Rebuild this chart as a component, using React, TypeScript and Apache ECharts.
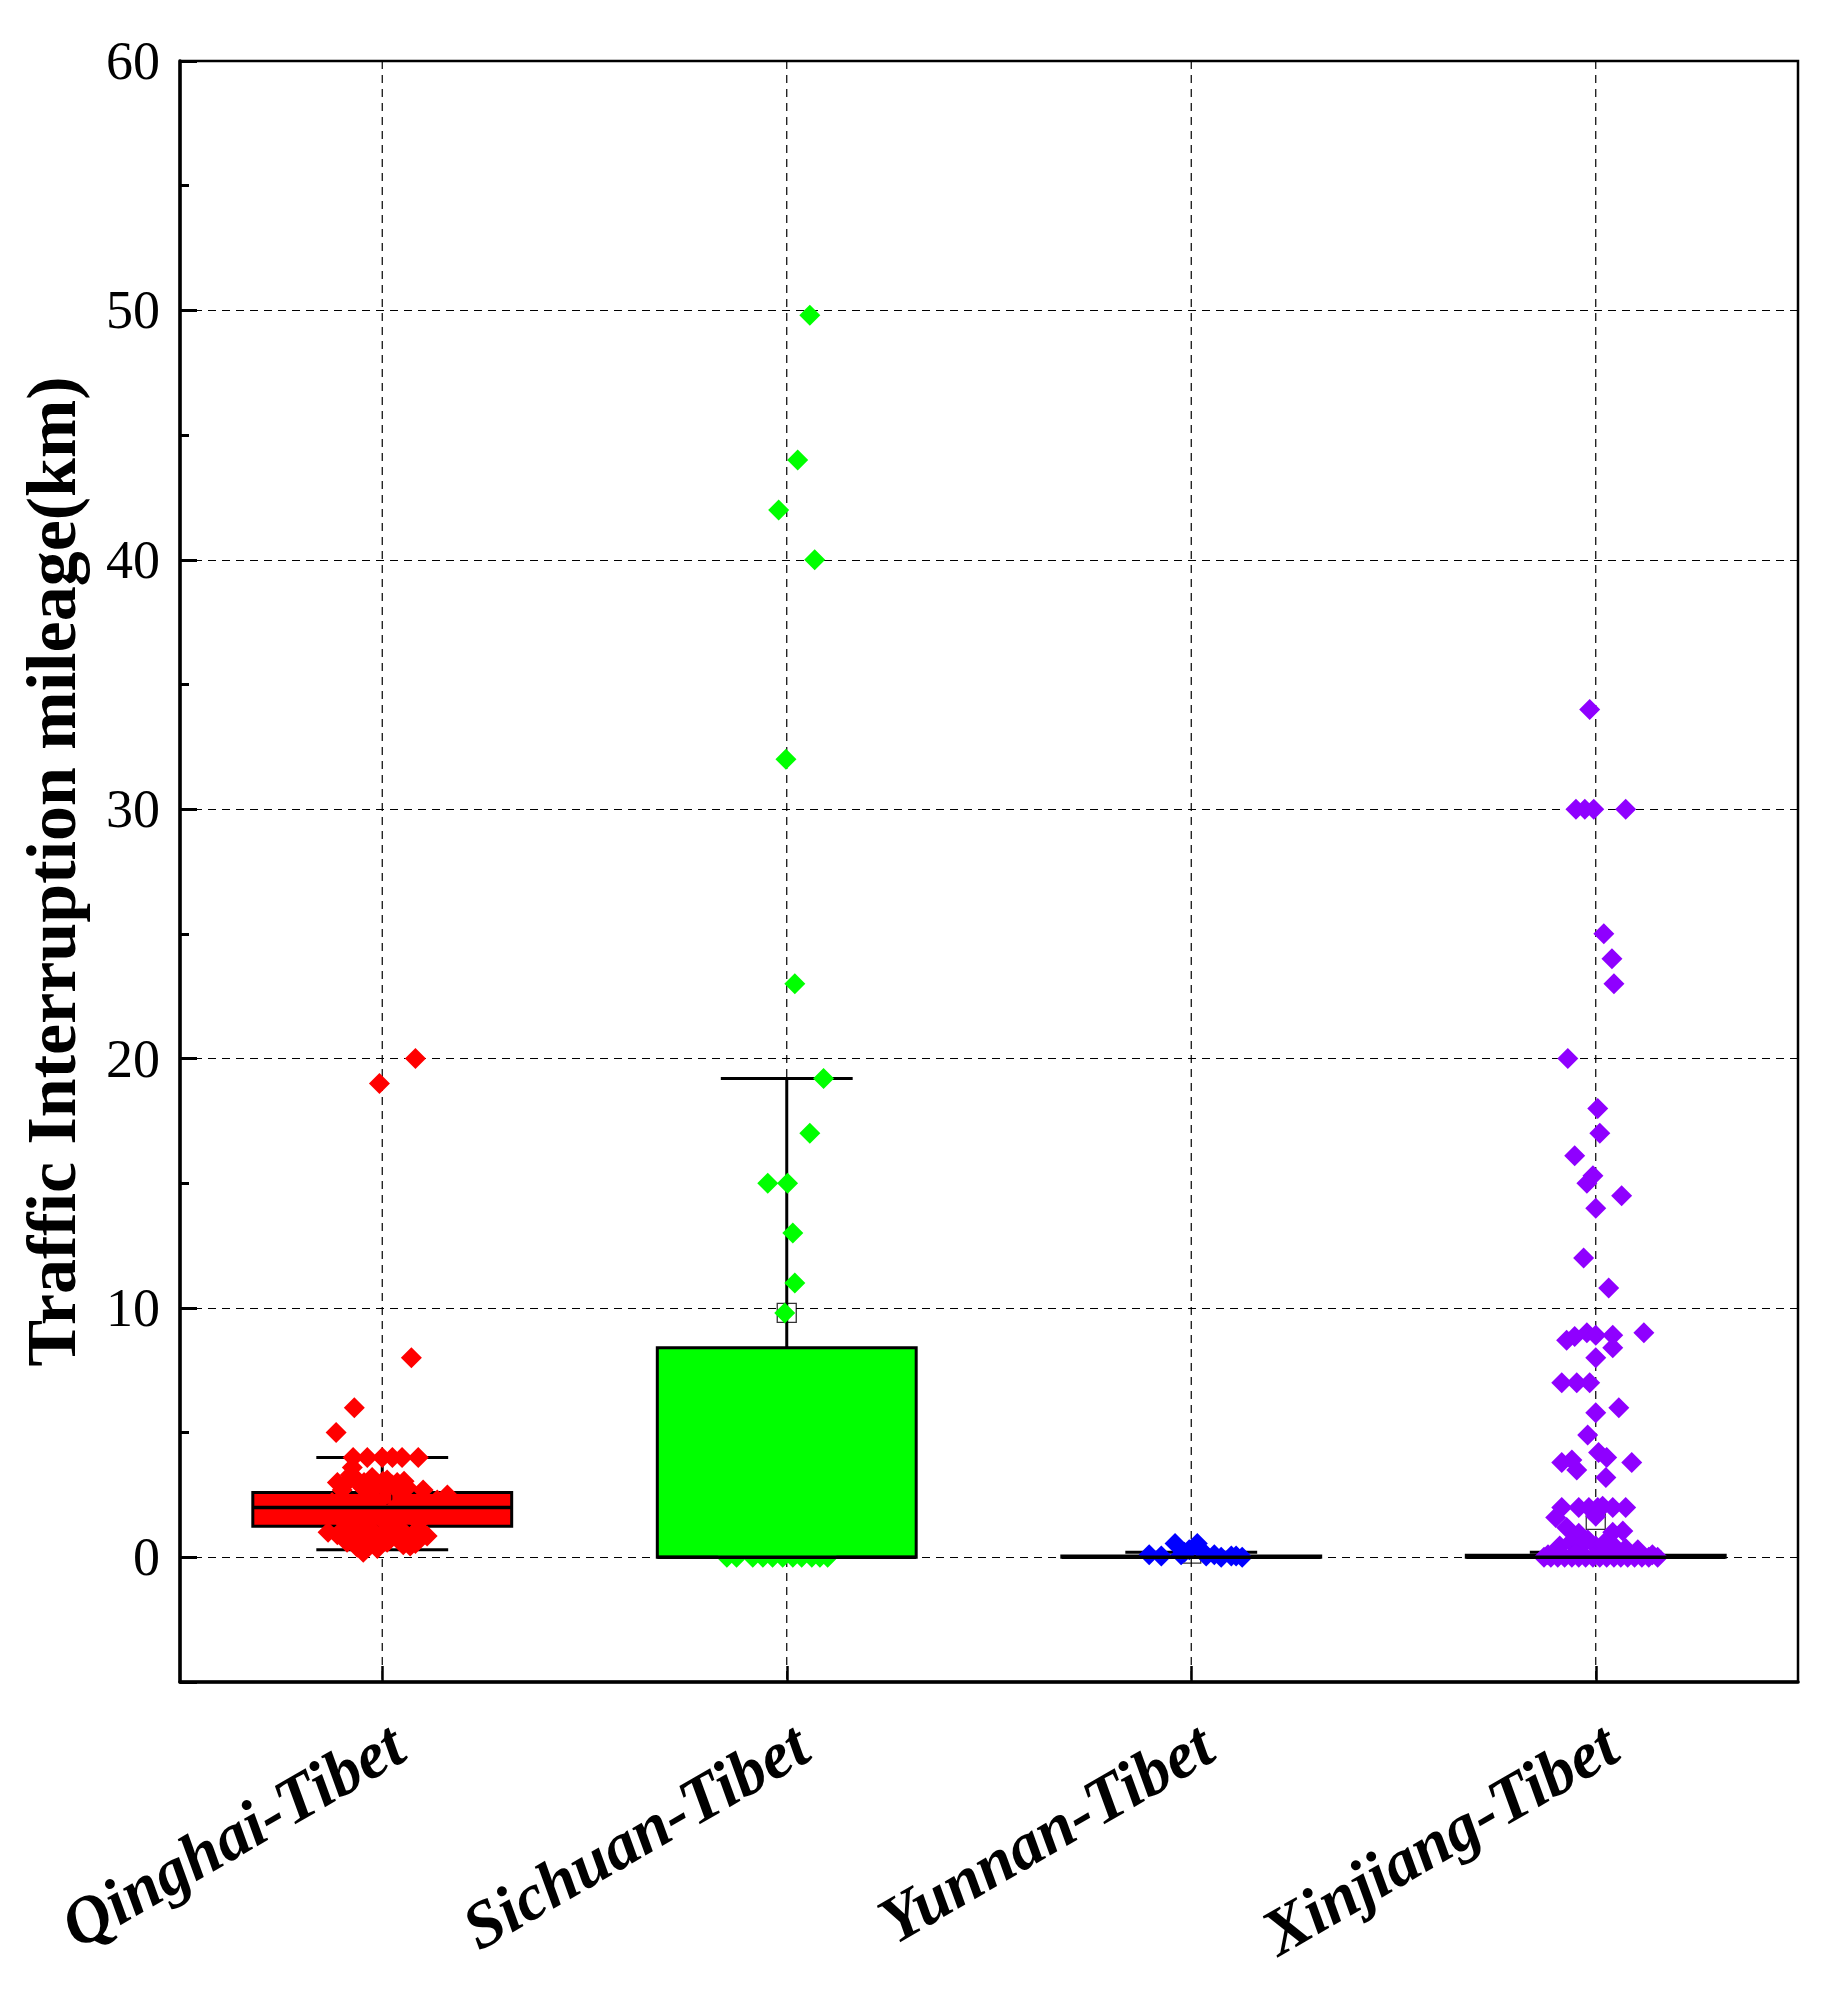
import React, { useEffect, useRef } from 'react';
import * as echarts from 'echarts';

const categories = ['Qinghai-Tibet', 'Sichuan-Tibet', 'Yunnan-Tibet', 'Xinjiang-Tibet'];
const colors = ['#FF0000', '#00FF00', '#0000FF', '#8F00FF'];

// box statistics
const boxMin = [0.3, 0, 0, 0];
const boxQ1 = [1.25, 0, 0, 0];
const boxMedian = [2.0, 0, 0, 0];
const boxQ3 = [2.6, 8.4, 0.05, 0.08];
const boxMax = [4.0, 19.2, 0.2, 0.2];
const means = [2.5, 9.8, 0.15, 1.5];

// raw points: [horizontal jitter in category units, value]
const qinghaiPoints: [number, number][] = [
  [0.082, 20], [-0.007, 19], [0.072, 8], [-0.069, 6], [-0.114, 5],
  [-0.072, 4], [-0.037, 4], [0, 4], [0.025, 4], [0.049, 4], [0.089, 4],
  [-0.074, 3.6], [-0.079, 3.3],
  [-0.111, 3.0], [-0.094, 2.9], [-0.062, 3.1], [-0.045, 3.0], [-0.025, 3.2], [-0.012, 2.9],
  [0.002, 3.05], [0.012, 3.1], [0.025, 2.9], [0.037, 3.0], [0.054, 3.05], [-0.049, 2.8],
  [-0.099, 2.7], [0.007, 2.75], [0.062, 2.8], [0.101, 2.7], [0.161, 2.5], [-0.03, 2.6], [0.045, 2.6],
  [-0.124, 2.2], [-0.074, 2.0], [-0.025, 2.3], [0.025, 1.9], [0.074, 2.1], [0.111, 1.8],
  [-0.049, 1.6], [0, 1.5], [0.049, 1.7], [0.136, 2.3], [-0.099, 1.5], [0.09, 1.4], [-0.01, 2.2],
  [-0.134, 1.0], [-0.111, 0.9], [-0.087, 1.1], [-0.062, 0.8], [-0.037, 1.2], [-0.02, 1.0],
  [0, 0.9], [0.02, 1.1], [0.037, 0.8], [0.054, 1.0], [0.074, 0.9], [0.094, 1.1], [0.111, 0.85],
  [-0.074, 1.2], [0.03, 1.25], [-0.049, 0.7], [0.012, 0.6], [0.062, 0.65], [-0.03, 0.5],
  [-0.047, 0.2], [-0.062, 0.4], [0.069, 0.45], [0.082, 0.55], [-0.012, 0.35], [0.052, 0.5], [-0.087, 0.6],
];

const sichuanPoints: [number, number][] = [
  [0.057, 49.8], [0.027, 44], [-0.02, 42], [0.069, 40], [-0.002, 32], [0.02, 23],
  [0.091, 19.2], [0.057, 17], [-0.047, 15], [0.002, 15], [0.015, 13], [0.02, 11], [-0.005, 9.8],
  [-0.148, 0], [-0.124, 0], [-0.084, 0], [-0.059, 0], [-0.035, 0], [-0.01, 0],
  [0.015, 0], [0.037, 0], [0.062, 0], [0.082, 0], [0.101, 0],
];

const yunnanPoints: [number, number][] = [
  [-0.104, 0.1], [-0.074, 0.05], [-0.04, 0.55], [-0.025, 0.1], [-0.017, 0.2], [-0.005, 0.3],
  [0.015, 0.55], [0.03, 0.2], [0.037, 0.05], [0.057, 0.1], [0.074, 0.0], [0.099, 0.05],
  [0.111, 0.05], [0.126, 0.0],
];

const xinjiangPoints: [number, number][] = [
  [-0.015, 34], [-0.049, 30], [-0.027, 30], [-0.005, 30], [0.074, 30], [0.02, 25], [0.04, 24],
  [0.045, 23], [-0.069, 20], [0.005, 18], [0.01, 17], [-0.052, 16.1], [-0.007, 15.3], [-0.022, 15.0],
  [0.064, 14.5], [0, 14], [-0.03, 12], [0.032, 10.8], [0.119, 9], [-0.072, 8.7], [-0.052, 8.85],
  [-0.022, 9.0], [0, 8.9], [0.042, 8.9], [0.042, 8.4], [0, 8], [-0.084, 7], [-0.047, 7], [-0.015, 7],
  [0, 5.8], [0.057, 6], [-0.02, 4.9], [-0.084, 3.8], [-0.059, 3.9], [-0.047, 3.5], [0.007, 4.2],
  [0.027, 4.0], [0.089, 3.8], [0.025, 3.2], [-0.084, 2.0], [-0.042, 2.0], [-0.017, 2.0], [0.005, 2.0],
  [0.017, 2.05], [0.042, 2.0], [0.074, 2.0], [-0.099, 1.6], [0, 1.65], [-0.072, 1.2], [-0.042, 0.96],
  [0.042, 1.0], [0.067, 1.05],
  [-0.089, 0.45], [-0.062, 0.6], [-0.037, 0.5], [-0.02, 0.7], [0, 0.45], [0.02, 0.55], [0.045, 0.45],
  [0.074, 0.35], [0.104, 0.3],
  [-0.128, 0], [-0.111, 0], [-0.094, 0], [-0.077, 0], [-0.059, 0], [-0.042, 0], [-0.025, 0], [-0.007, 0],
  [0.01, 0], [0.027, 0], [0.045, 0], [0.062, 0], [0.079, 0], [0.096, 0], [0.114, 0], [0.131, 0],
  [0.153, 0], [-0.118, 0.1], [0.14, 0.1], [-0.05, 0.15], [0.05, 0.12],
];

const allPoints = [qinghaiPoints, sichuanPoints, yunnanPoints, xinjiangPoints];

const yMin = -5;
const yMax = 60;
const yTitle = 'Traffic Interruption mileage(km)';

const FONT = 'Liberation Serif';

export default function App() {
  const ref = useRef<HTMLDivElement>(null);

  useEffect(() => {
    if (!ref.current) return;
    const chart = echarts.init(ref.current, null, { renderer: 'svg' });

    const boxData = categories.map((_, i) => [i, boxMin[i], boxQ1[i], boxMedian[i], boxQ3[i], boxMax[i]]);

    const option: any = {
      animation: false,
      backgroundColor: '#fff',
      grid: {
        left: 180, right: 32, top: 61, bottom: 308,
        outerBoundsMode: 'none',
        containLabel: false,
        show: true, borderColor: '#000', borderWidth: 2.5, backgroundColor: 'transparent',
      },
      xAxis: [
        {
          type: 'category',
          data: categories,
          boundaryGap: true,
          position: 'bottom',
          axisLine: { show: true, onZero: false, lineStyle: { color: '#000', width: 3.5 } },
          axisTick: { show: true, inside: true, alignWithLabel: true, length: 16, lineStyle: { color: '#000', width: 2.5 } },
          axisLabel: {
            interval: 0, rotate: 30, margin: 66, fontSize: 66, fontWeight: 'bold', fontStyle: 'italic',
            fontFamily: FONT, color: '#000', padding: [0, -18, 0, 0],
          },
          splitLine: { show: false },
        },
        { type: 'value', min: -0.5, max: 3.5, show: false, axisLine: { onZero: false } },
      ],
      yAxis: {
        type: 'value',
        min: yMin,
        max: yMax,
        splitNumber: 6,
        axisLine: { show: true, onZero: false, lineStyle: { color: '#000', width: 3.5 } },
        axisTick: { show: true, inside: true, length: 17, lineStyle: { color: '#000', width: 3 } },
        minorTick: { show: true, splitNumber: 2, length: 9, lineStyle: { color: '#000', width: 3 } },
        splitLine: { show: true, lineStyle: { type: [8, 6], color: '#000', width: 1.2 } },
        axisLabel: {
          fontSize: 54, fontFamily: FONT, color: '#000', margin: 20,
          formatter: (v: number) => (v === yMin ? '' : String(v)),
        },
        name: yTitle,
        nameLocation: 'middle',
        nameGap: 94,
        nameTextStyle: { fontSize: 70, fontWeight: 'bold', fontFamily: FONT, color: '#000' },
      },
      series: [
        {
          type: 'custom',
          name: 'vgrid',
          xAxisIndex: 0,
          z: 1,
          silent: true,
          data: categories.map((_, i) => [i, 0]),
          renderItem: (params: any, api: any) => {
            const p = api.coord([api.value(0), 0]);
            const cs = params.coordSys;
            return {
              type: 'line',
              shape: { x1: p[0], y1: cs.y, x2: p[0], y2: cs.y + cs.height },
              style: { stroke: '#000', lineWidth: 1.2, lineDash: [8, 6] },
            };
          },
        },
        {
          type: 'custom',
          name: 'box',
          xAxisIndex: 0,
          z: 2,
          silent: true,
          encode: { x: 0, y: [1, 2, 3, 4, 5] },
          data: boxData,
          renderItem: (params: any, api: any) => {
            const idx = api.value(0);
            const cs = params.coordSys;
            const band = cs.width / categories.length;
            const hw = band * 0.32;
            const cw = band * 0.163;
            const pMin = api.coord([idx, api.value(1)]);
            const pQ1 = api.coord([idx, api.value(2)]);
            const pQ3 = api.coord([idx, api.value(4)]);
            const pMax = api.coord([idx, api.value(5)]);
            const x = pMin[0];
            const ls = { stroke: '#000', lineWidth: 3 };
            return {
              type: 'group',
              children: [
                { type: 'line', shape: { x1: x, y1: pMax[1], x2: x, y2: pQ3[1] }, style: ls },
                { type: 'line', shape: { x1: x, y1: pQ1[1], x2: x, y2: pMin[1] }, style: ls },
                { type: 'line', shape: { x1: x - cw, y1: pMax[1], x2: x + cw, y2: pMax[1] }, style: ls },
                { type: 'line', shape: { x1: x - cw, y1: pMin[1], x2: x + cw, y2: pMin[1] }, style: ls },
                {
                  type: 'rect',
                  shape: { x: x - hw, y: pQ3[1], width: hw * 2, height: pQ1[1] - pQ3[1] },
                  style: { fill: colors[idx], stroke: '#000', lineWidth: 3 },
                },
              ],
            };
          },
        },
        {
          type: 'scatter',
          name: 'mean',
          xAxisIndex: 0,
          z: 3,
          silent: true,
          symbol: 'rect',
          symbolSize: 19,
          itemStyle: { color: 'rgba(0,0,0,0)', borderColor: '#000', borderWidth: 1.3 },
          data: categories.map((_, i) => [i, means[i]]),
        },
        ...allPoints.map((pts, i) => ({
          type: 'scatter',
          name: categories[i],
          xAxisIndex: 1,
          z: 4,
          silent: true,
          symbol: 'diamond',
          symbolSize: 21,
          itemStyle: { color: colors[i], opacity: 1 },
          data: pts.map(([o, v]) => [i + o, v]),
        })),
        {
          type: 'custom',
          name: 'median',
          xAxisIndex: 0,
          z: 5,
          silent: true,
          encode: { x: 0, y: 1 },
          data: categories.map((_, i) => [i, boxMedian[i]]),
          renderItem: (params: any, api: any) => {
            const cs = params.coordSys;
            const band = cs.width / categories.length;
            const hw = band * 0.32;
            const p = api.coord([api.value(0), api.value(1)]);
            return {
              type: 'line',
              shape: { x1: p[0] - hw, y1: p[1], x2: p[0] + hw, y2: p[1] },
              style: { stroke: '#000', lineWidth: 3.5 },
            };
          },
        },
      ],
    };

    chart.setOption(option);
    return () => chart.dispose();
  }, []);

  return (
    <div
      ref={ref}
      style={{ position: 'absolute', left: 0, top: 0, width: 1830, height: 1990, background: '#fff' }}
    />
  );
}
